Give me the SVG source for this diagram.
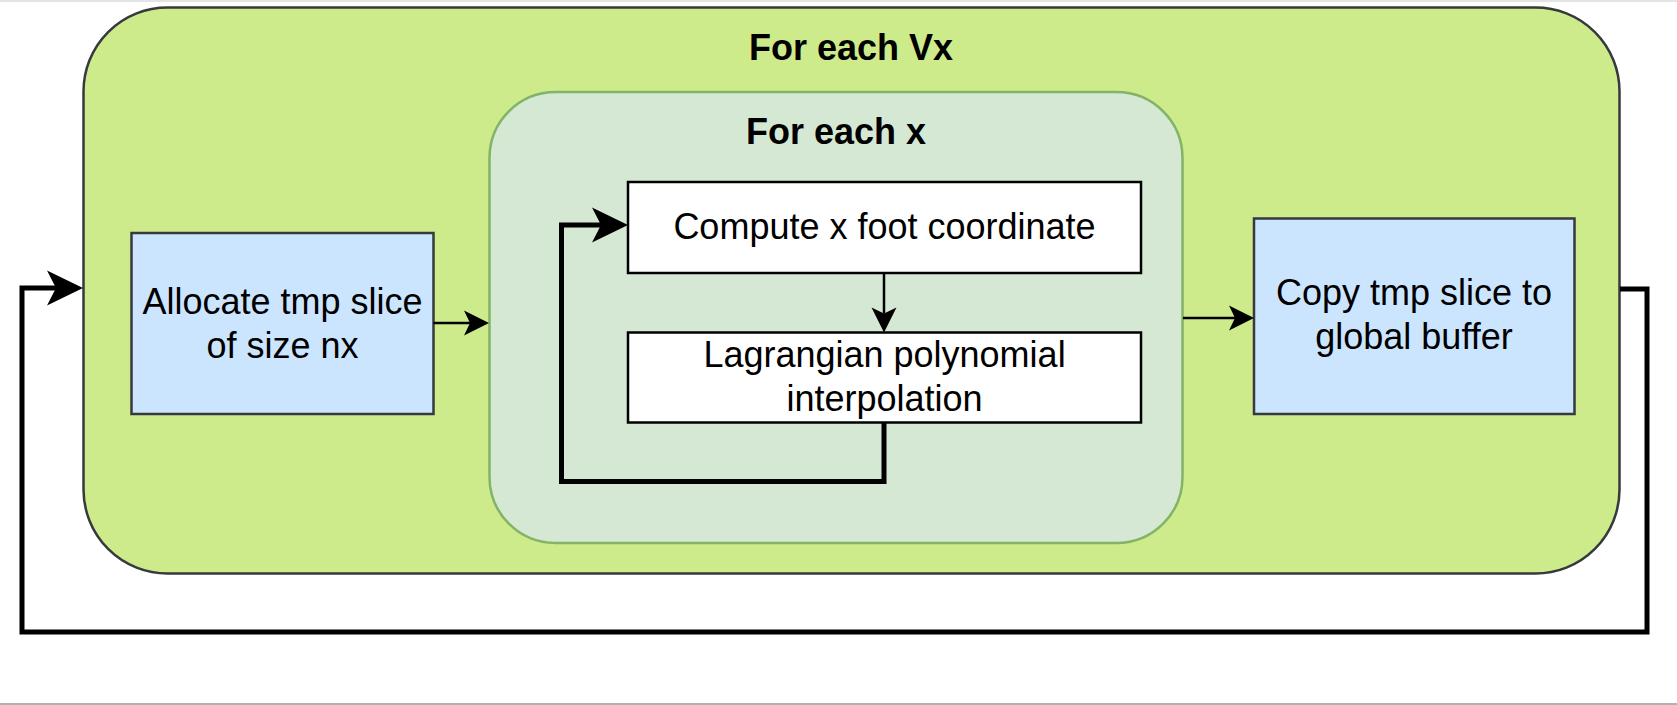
<svg xmlns="http://www.w3.org/2000/svg" width="1677" height="705" viewBox="0 0 1677 705">
  <defs>
    <style>
      text { font-family: "Liberation Sans", Arial, sans-serif; fill: #000; text-anchor: middle; }
      .title { font-size: 36px; font-weight: bold; }
      .label { font-size: 36px; }
      .blue { fill: #cce5ff; stroke: #36393d; stroke-width: 2.5; }
      .white { fill: #ffffff; stroke: #000000; stroke-width: 2.5; }
      .thick { fill: none; stroke: #000; stroke-width: 5; }
      .thin { fill: none; stroke: #000; stroke-width: 2.5; }
    </style>
    <marker id="bigArrow" markerUnits="userSpaceOnUse" viewBox="-10 -19 38 38" markerWidth="38" markerHeight="38" refX="0" refY="0" orient="auto">
      <path d="M27,0 L-9,-17.5 L0,0 L-9,17.5 Z" fill="#000"/>
    </marker>
    <marker id="smallArrow" markerUnits="userSpaceOnUse" viewBox="-8 -14 28 28" markerWidth="28" markerHeight="28" refX="0" refY="0" orient="auto">
      <path d="M19,0 L-6,-12.5 L0,0 L-6,12.5 Z" fill="#000"/>
    </marker>
  </defs>

  <rect x="0" y="0" width="1677" height="705" fill="#ffffff"/>
  <line x1="0" y1="1" x2="1677" y2="1" stroke="#e4e4e4" stroke-width="2"/>
  <line x1="0" y1="704" x2="1677" y2="704" stroke="#b0b0b0" stroke-width="2"/>

  <g id="outer-loop">
    <rect x="83.5" y="7.5" width="1536" height="566" rx="84" ry="84" fill="#cdeb8b" stroke="#36393d" stroke-width="2.5"/>
    <text class="title" x="851" y="60">For each Vx</text>
  </g>

  <g id="inner-loop">
    <rect x="489.5" y="92" width="693" height="451" rx="66" ry="66" fill="#d5e8d4" stroke="#82b366" stroke-width="2.5"/>
    <text class="title" x="836" y="144">For each x</text>
  </g>

  <g id="allocate">
    <rect class="blue" x="131.5" y="233" width="302" height="181"/>
    <text class="label" x="282.5" y="313.5">Allocate tmp slice</text>
    <text class="label" x="282.5" y="357.5">of size nx</text>
  </g>

  <g id="copy">
    <rect class="blue" x="1254" y="218.5" width="320.5" height="195.5"/>
    <text class="label" x="1414" y="305">Copy tmp slice to</text>
    <text class="label" x="1414" y="348.5">global buffer</text>
  </g>

  <g id="compute">
    <rect class="white" x="628" y="182" width="513" height="91"/>
    <text class="label" x="884.5" y="238.5">Compute x foot coordinate</text>
  </g>

  <g id="lagrangian">
    <rect class="white" x="628" y="332.5" width="513" height="90"/>
    <text class="label" x="884.5" y="367">Lagrangian polynomial</text>
    <text class="label" x="884.5" y="411">interpolation</text>
  </g>

  <g id="connectors">
    <path class="thick" d="M1620,289 H1647 V632 H22 V288 H56" marker-end="url(#bigArrow)"/>
    <path class="thick" d="M884,422.5 V481.5 H561.5 V225 H601" marker-end="url(#bigArrow)"/>
    <path class="thin" d="M433.5,323 H470" marker-end="url(#smallArrow)"/>
    <path class="thin" d="M1183,318 H1235" marker-end="url(#smallArrow)"/>
    <path class="thin" d="M884,273 V313.5" marker-end="url(#smallArrow)"/>
  </g>
</svg>
